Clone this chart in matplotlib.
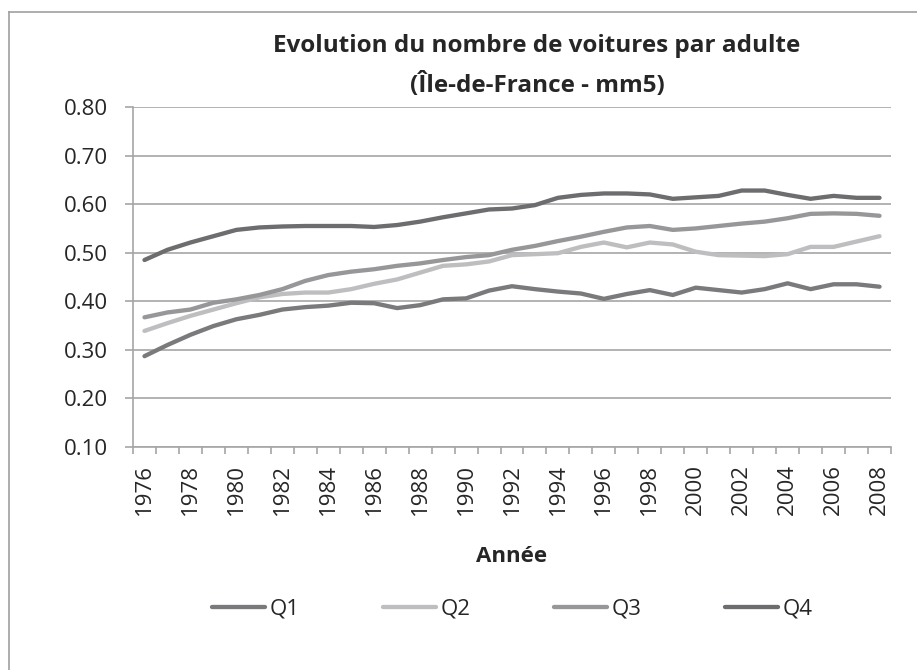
import matplotlib
matplotlib.use("Agg")
import matplotlib.pyplot as plt
from matplotlib.lines import Line2D
import numpy as np

years = list(range(1976, 2009))
q1 = [0.287, 0.310, 0.331, 0.349, 0.363, 0.372, 0.383, 0.388, 0.391, 0.397,
      0.396, 0.386, 0.392, 0.404, 0.406, 0.422, 0.431, 0.425, 0.420, 0.416,
      0.405, 0.415, 0.423, 0.413, 0.428, 0.423, 0.418, 0.425, 0.437, 0.425,
      0.435, 0.435, 0.430]
q2 = [0.339, 0.355, 0.370, 0.383, 0.396, 0.408, 0.415, 0.418, 0.418, 0.425,
      0.436, 0.445, 0.459, 0.473, 0.476, 0.482, 0.495, 0.497, 0.499, 0.512,
      0.521, 0.511, 0.521, 0.517, 0.502, 0.495, 0.494, 0.493, 0.497, 0.512,
      0.512, 0.523, 0.534]
q3 = [0.367, 0.377, 0.383, 0.397, 0.404, 0.413, 0.425, 0.442, 0.454, 0.461,
      0.466, 0.473, 0.478, 0.485, 0.491, 0.495, 0.506, 0.514, 0.524, 0.533,
      0.543, 0.552, 0.555, 0.547, 0.550, 0.555, 0.560, 0.564, 0.571, 0.580,
      0.581, 0.580, 0.576]
q4 = [0.485, 0.506, 0.521, 0.534, 0.547, 0.552, 0.554, 0.555, 0.555, 0.555,
      0.553, 0.557, 0.564, 0.573, 0.581, 0.589, 0.591, 0.598, 0.613, 0.619,
      0.622, 0.622, 0.620, 0.611, 0.614, 0.617, 0.628, 0.628, 0.619, 0.611,
      0.617, 0.613, 0.613]
series_names = ["Q1", "Q2", "Q3", "Q4"]
colors = ["#7a7a7c", "#bebec0", "#979799", "#6d6d6f"]

plt.rcParams["font.family"] = ["Open Sans", "DejaVu Sans"]
text_col = "#262626"
grid_col = "#a6a6a6"

fig = plt.figure(figsize=(9.17, 6.70), dpi=100)
ax = fig.add_axes([133 / 917, 1 - 447 / 670, (891 - 133) / 917, 340 / 670])

x = np.arange(len(years))
for vals, c, name in zip([q1, q2, q3, q4], colors, series_names):
    ax.plot(x, vals, color=c, lw=3.1, solid_capstyle="round",
            solid_joinstyle="round", label=name)

ax.set_xlim(-0.5, len(years) - 0.5)
ax.set_ylim(0.10, 0.80)
ax.set_yticks(np.arange(0.10, 0.81, 0.10))
ax.set_yticklabels([f"{v:.2f}" for v in np.arange(0.10, 0.81, 0.10)])
ax.set_xticks(x[::2])
ax.set_xticklabels([str(y) for y in years[::2]], rotation=90)
ax.set_xticks(np.arange(-0.5, len(years), 1), minor=True)
ax.tick_params(axis="x", which="major", length=0, pad=12, labelsize=16,
               labelcolor=text_col)
ax.tick_params(axis="x", which="minor", length=5, width=1.2, color=grid_col)
ax.tick_params(axis="y", length=5.8, width=1.2, color=grid_col, pad=12,
               labelsize=16, labelcolor=text_col)

ax.grid(axis="y", color=grid_col, lw=1.2)
ax.set_axisbelow(True)
for s in ["top", "right"]:
    ax.spines[s].set_visible(False)
for s in ["left", "bottom"]:
    ax.spines[s].set_color(grid_col)
    ax.spines[s].set_linewidth(1.2)

title_lines = ["Evolution du nombre de voitures par adulte", "(Île-de-France - mm5)"]
for line, base in zip(title_lines, [52, 92]):
    fig.text(537 / 917, 1 - base / 670, line, ha="center", va="baseline",
             fontsize=17.5, fontweight="bold", color=text_col)
fig.text(512 / 917, 1 - 557 / 670, "Année", ha="center", va="center",
         fontsize=16, fontweight="bold", color=text_col)

handles = [Line2D([], [], color=c, lw=3.1, solid_capstyle="round") for c in colors]
fig.legend(handles, series_names, loc="center", bbox_to_anchor=(512 / 917, 1 - 609 / 670),
           ncol=4, frameon=False, handlelength=2.4, handletextpad=0.2,
           columnspacing=3.75, fontsize=16, labelcolor=text_col)

# outer chart border (only top and left visible)
fig.add_artist(Line2D([9 / 917, 9 / 917], [0, 1 - 12 / 670], color="#a0a0a0",
                      lw=1.2, transform=fig.transFigure))
fig.add_artist(Line2D([9 / 917, 1], [1 - 12 / 670, 1 - 12 / 670], color="#a0a0a0",
                      lw=1.2, transform=fig.transFigure))

fig.savefig("out.png", dpi=100)
